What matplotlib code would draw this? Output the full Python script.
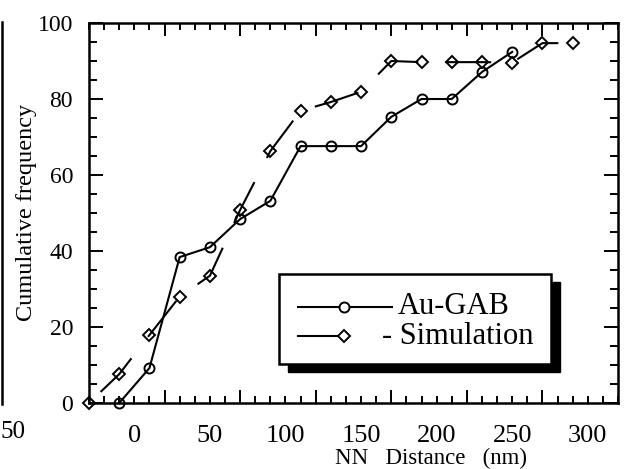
import matplotlib
matplotlib.use("Agg")
import matplotlib.pyplot as plt
from matplotlib.lines import Line2D
from matplotlib.patches import Rectangle
from matplotlib.ticker import FixedLocator, MultipleLocator

plt.rcParams['font.family'] = ['Liberation Serif', 'DejaVu Serif']
plt.rcParams['lines.scale_dashes'] = False

# Au-GAB: measured cumulative frequency of nearest-neighbour distances
au_x = [-10, 10, 30, 50, 70, 90, 110, 130, 150, 170, 190, 210, 230, 250]
au_y = [0, 9.2, 38.4, 41.0, 48.4, 53.2, 67.6, 67.6, 67.6, 75.3, 80.0, 80.0, 87.1, 92.4]

# Simulation: cumulative frequency for the simulated distribution
sim_x = [-30, -10, 10, 30, 50, 70, 90, 110, 130, 150, 170, 190, 210, 230, 250, 270, 290]
sim_y = [0, 7.6, 17.9, 28.0, 33.5, 50.8, 66.3, 76.9, 79.2, 81.9, 90.0, 89.7, 89.7, 89.7, 89.6, 94.7, 94.7]

x_tick_labels = [0, 50, 100, 150, 200, 250, 300]

W, H = 627, 469
fig = plt.figure(figsize=(W / 100, H / 100), dpi=100)
fig.patch.set_facecolor('white')


def fx(px):
    return px / W


def fy(py):
    return 1 - py / H


ax = fig.add_axes([fx(89), fy(403), (618 - 89) / W, (403 - 23) / H])
ax.set_xlim(-30, 320)
ax.set_ylim(0, 100)

for s in ax.spines.values():
    s.set_linewidth(1.8)

ax.plot(au_x, au_y, color='k', lw=1.5, marker='o', ms=7.2, mfc='none',
        mec='k', mew=1.4, clip_on=False, zorder=3)
ax.plot(sim_x, sim_y, color='k', lw=1.5, linestyle=(41, (33, 19.5)),
        marker='D', ms=6.6, mfc='none', mec='k', mew=1.4, clip_on=False, zorder=3)

# tick marks: long every 50, short every 10, on all four sides, pointing in
ax.xaxis.set_major_locator(FixedLocator(list(range(20, 320, 50))))
ax.xaxis.set_minor_locator(MultipleLocator(10))
ax.yaxis.set_major_locator(MultipleLocator(20))
ax.yaxis.set_minor_locator(MultipleLocator(5))
ax.tick_params(axis='x', which='both', direction='in', top=True, bottom=True,
               labelbottom=False, width=1.4)
ax.tick_params(axis='x', which='major', length=9.4)
ax.tick_params(axis='x', which='minor', length=5)
ax.tick_params(axis='y', which='both', direction='in', left=True, right=True,
               width=1.4)
ax.tick_params(axis='y', which='major', length=10, pad=11.5, labelsize=17)
ax.tick_params(axis='y', which='minor', length=6)

for v in x_tick_labels:
    ax.text(v, -0.058, str(v), transform=ax.get_xaxis_transform(),
            ha='center', va='top', fontsize=19)

fig.text(fx(431), fy(458), 'NN   Distance   (nm)', ha='center', va='center',
         fontsize=16.5)
fig.text(fx(27), fy(212), 'Cumulative frequency', rotation=90,
         ha='center', va='center', fontsize=17.5)

# legend box with drop shadow
bx0, by0, bx1, by1 = 279, 274, 551, 364
fig.add_artist(Rectangle((fx(bx0 + 9), fy(by1 + 8)), (bx1 - bx0) / W, (by1 - by0) / H,
                         transform=fig.transFigure, facecolor='k', edgecolor='k',
                         zorder=5))
fig.add_artist(Rectangle((fx(bx0), fy(by1)), (bx1 - bx0) / W, (by1 - by0) / H,
                         transform=fig.transFigure, facecolor='white', edgecolor='k',
                         lw=1.8, zorder=6))
fig.add_artist(Line2D([fx(298), fx(392)], [fy(307)] * 2, transform=fig.transFigure,
                      color='k', lw=1.5, zorder=7))
fig.add_artist(Line2D([fx(344)], [fy(307)], transform=fig.transFigure, marker='o',
                      ms=7.2, mfc='white', mec='k', mew=1.4, zorder=8))
fig.add_artist(Line2D([fx(298), fx(344)], [fy(336)] * 2, transform=fig.transFigure,
                      color='k', lw=1.5, zorder=7))
fig.add_artist(Line2D([fx(344)], [fy(336)], transform=fig.transFigure, marker='D',
                      ms=6.6, mfc='white', mec='k', mew=1.4, zorder=8))
fig.text(fx(398), fy(307), 'Au-GAB', ha='left', va='center', fontsize=22, zorder=8)
fig.text(fx(382), fy(336), '- Simulation', ha='left', va='center', fontsize=22, zorder=8)

# edge of the neighbouring panel
fig.add_artist(Line2D([fx(1.5)] * 2, [fy(22), fy(404)], transform=fig.transFigure,
                      color='k', lw=1.8))
fig.text(fx(0), fy(432), '50', ha='left', va='center', fontsize=18)

fig.savefig('out.png', dpi=100, facecolor='white')
